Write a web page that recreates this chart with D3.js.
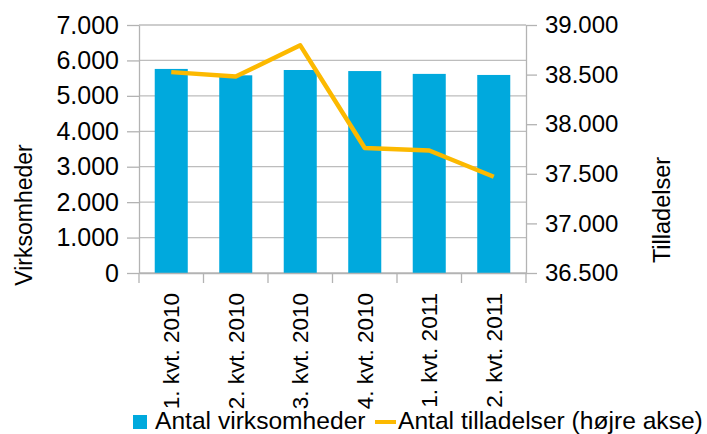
<!DOCTYPE html>
<html>
<head>
<meta charset="utf-8">
<script src="https://cdn.jsdelivr.net/npm/d3@7"></script>
<style>
	body { margin: 0; background: #fff; }
	svg { display: block; font-family: "Liberation Sans", Arial, sans-serif; }
</style>
</head>
<body>
<svg id="chart" width="707" height="434"></svg>
<script>
// chart data
const categories = ['1. kvt. 2010', '2. kvt. 2010', '3. kvt. 2010', '4. kvt. 2010', '1. kvt. 2011', '2. kvt. 2011'];
const virksomheder = [5760, 5580, 5730, 5700, 5620, 5590];
const tilladelser = [38525, 38480, 38795, 37760, 37735, 37470];
const leftTicks = [0, 1000, 2000, 3000, 4000, 5000, 6000, 7000];
const rightTicks = [36500, 37000, 37500, 38000, 38500, 39000];
const seriesNames = ['Antal virksomheder', 'Antal tilladelser (højre akse)'];
const axisTitles = ['Virksomheder', 'Tilladelser'];

;(() => {
	'use strict';

	const svg = d3.select('#chart'),
		left = 139,
		right = 526,
		top = 25,
		bottom = 273,
		barColor = '#00A9DD',
		lineColor = '#FCB900',
		gridColor = '#BDBDBD',
		axisColor = '#B3B3B3',
		gap = 0.488;

	// danish number format: 7.000
	const da = d3.formatLocale({decimal: ',', thousands: '.', grouping: [3], currency: ['', ' kr.']}),
		fmt = da.format(',d');

	const x = d3.scaleBand().domain(categories).range([left, right])
			.paddingInner(gap).paddingOuter(gap / 2),
		yLeft = d3.scaleLinear().domain([0, 7000]).range([bottom, top]),
		yRight = d3.scaleLinear().domain([36500, 39000]).range([bottom, top]);

	// gridlines
	svg.append('g')
		.selectAll('line')
		.data(leftTicks)
		.enter()
		.append('line')
		.attr('x1', left)
		.attr('x2', right)
		.attr('y1', (d) => yLeft(d))
		.attr('y2', (d) => yLeft(d))
		.attr('stroke', gridColor)
		.attr('stroke-width', 1.3);

	// bars
	svg.append('g')
		.selectAll('rect')
		.data(virksomheder)
		.enter()
		.append('rect')
		.attr('x', (d, i) => x(categories[i]))
		.attr('width', x.bandwidth())
		.attr('y', (d) => yLeft(d))
		.attr('height', (d) => yLeft(0) - yLeft(d))
		.attr('fill', barColor);

	// left axis
	const axLeft = svg.append('g')
		.attr('transform', `translate(${left},0)`)
		.call(d3.axisLeft(yLeft).tickValues(leftTicks).tickFormat(fmt)
			.tickSize(12).tickSizeOuter(0).tickPadding(8));

	// right axis
	const axRight = svg.append('g')
		.attr('transform', `translate(${right},0)`)
		.call(d3.axisRight(yRight).tickValues(rightTicks).tickFormat(fmt)
			.tickSize(11).tickSizeOuter(0).tickPadding(8));

	// bottom axis, labels only (ticks sit between the categories)
	const axBottom = svg.append('g')
		.attr('transform', `translate(0,${bottom})`)
		.call(d3.axisBottom(x).tickSize(0).tickSizeOuter(0));

	axBottom.selectAll('text')
		.attr('transform', 'rotate(-90)')
		.attr('text-anchor', 'end')
		.attr('x', -20)
		.attr('y', 0)
		.attr('dy', '0.35em')
		.attr('dx', 0)
		.style('font-size', '22.5px');

	const boundaries = categories.map((c) => x(c) - x.step() * gap / 2)
		.concat([x(categories[categories.length - 1]) + x.bandwidth() + x.step() * gap / 2]);

	axBottom.selectAll('.bound')
		.data(boundaries)
		.enter()
		.append('line')
		.attr('class', 'bound')
		.attr('x1', (d) => d)
		.attr('x2', (d) => d)
		.attr('y1', 0)
		.attr('y2', 10);

	[axLeft, axRight, axBottom].forEach((ax) => {
		ax.selectAll('path, line').attr('stroke', axisColor).attr('stroke-width', 1.3);
		ax.selectAll('text').attr('fill', '#000').style('font-family', '"Liberation Sans", Arial, sans-serif');
	});
	axLeft.selectAll('text').style('font-size', '25px');
	axRight.selectAll('text').style('font-size', '24px');

	// line series
	const line = d3.line()
		.x((d, i) => x(categories[i]) + x.bandwidth() / 2)
		.y((d) => yRight(d));

	svg.append('path')
		.datum(tilladelser)
		.attr('d', line)
		.attr('fill', 'none')
		.attr('stroke', lineColor)
		.attr('stroke-width', 4.5)
		.attr('stroke-linejoin', 'round');

	// axis titles
	svg.append('text')
		.attr('transform', 'translate(32,215) rotate(-90)')
		.attr('text-anchor', 'middle')
		.style('font-size', '23px')
		.text(axisTitles[0]);

	svg.append('text')
		.attr('transform', 'translate(670,210) rotate(-90)')
		.attr('text-anchor', 'middle')
		.style('font-size', '23.5px')
		.text(axisTitles[1]);

	// legend
	const legend = svg.append('g').attr('transform', 'translate(0,429)');

	legend.append('rect')
		.attr('x', 133)
		.attr('y', -14)
		.attr('width', 14)
		.attr('height', 14)
		.attr('fill', barColor);

	legend.append('text')
		.attr('x', 155)
		.style('font-size', '24.6px')
		.text(seriesNames[0]);

	legend.append('line')
		.attr('x1', 375)
		.attr('x2', 396)
		.attr('y1', -7)
		.attr('y2', -7)
		.attr('stroke', lineColor)
		.attr('stroke-width', 4);

	legend.append('text')
		.attr('x', 398)
		.style('font-size', '24.6px')
		.text(seriesNames[1]);
})();
</script>
</body>
</html>
